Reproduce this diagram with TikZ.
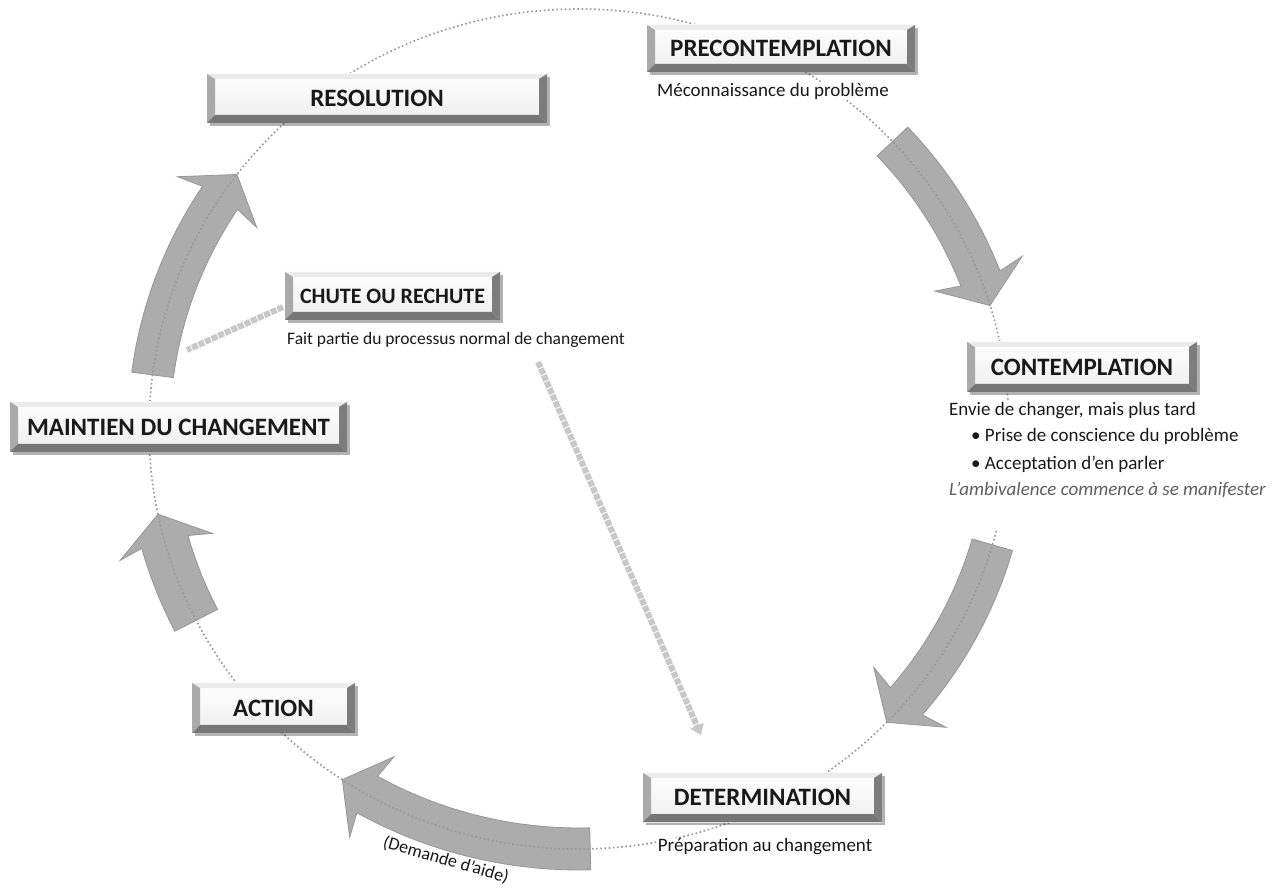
\documentclass[tikz,border=0pt]{standalone}
\usepackage{fontspec}
\setmainfont{Carlito}
\usetikzlibrary{calc,shadows,arrows.meta}
\definecolor{arrowfill}{RGB}{172,172,172}
\definecolor{arrowedge}{RGB}{150,150,150}
\definecolor{dotcol}{RGB}{150,150,150}
\definecolor{dashcol}{RGB}{200,200,200}
\definecolor{italcol}{RGB}{95,95,95}
\definecolor{txt}{RGB}{25,25,25}
\definecolor{bevtop}{RGB}{235,235,235}
\definecolor{bevleft}{RGB}{170,170,170}
\definecolor{bevright}{RGB}{125,125,125}
\definecolor{bevbot}{RGB}{118,118,118}

\newcommand\cyclearrow[4]{%
  \pgfmathsetmacro\hbarb{#2+4.6}%
  \pgfmathsetmacro\hjoin{#2+3.9}%
  \pgfmathsetmacro\ro{430+#3}\pgfmathsetmacro\ri{430-#3}%
  \pgfmathsetmacro\so{420+#3}\pgfmathsetmacro\si{420-#3}%
  \pgfmathsetmacro\rbo{430+#4}\pgfmathsetmacro\rbi{430-#4}%
  \pgfmathsetmacro\sbo{420+#4}\pgfmathsetmacro\sbi{420-#4}%
  \filldraw[blockarrow]
    ($(C)+(#1:\ro pt and \so pt)$)
    arc[start angle=#1, end angle=\hjoin, x radius=\ro pt, y radius=\so pt]
    -- ($(C)+(\hbarb:\rbo pt and \sbo pt)$)
    -- ($(C)+(#2:430pt and 420pt)$)
    -- ($(C)+(\hbarb:\rbi pt and \sbi pt)$)
    -- ($(C)+(\hjoin:\ri pt and \si pt)$)
    arc[start angle=\hjoin, end angle=#1, x radius=\ri pt, y radius=\si pt]
    -- cycle;
}

\begin{document}
\begin{tikzpicture}[x=1pt,y=1pt,
  blockarrow/.style={fill=arrowfill, draw=arrowedge, line width=0.8pt, line join=miter},
  btn/.style={rectangle, inner sep=0pt, font=\fontsize{25}{29}\selectfont\bfseries, text=txt,
    top color=white, bottom color=gray!14,
    drop shadow={shadow xshift=3pt, shadow yshift=-3pt, fill=black, opacity=0.3},
    path picture={
      \path (path picture bounding box.north west) coordinate (bNW)
            (path picture bounding box.north east) coordinate (bNE)
            (path picture bounding box.south west) coordinate (bSW)
            (path picture bounding box.south east) coordinate (bSE);
      \fill[bevtop] (bNW) -- (bNE) -- ([xshift=-8pt,yshift=-5pt]bNE) -- ([xshift=8pt,yshift=-5pt]bNW) -- cycle;
      \fill[bevleft] (bNW) -- ([xshift=8pt,yshift=-5pt]bNW) -- ([xshift=8pt,yshift=8pt]bSW) -- (bSW) -- cycle;
      \fill[bevright] (bNE) -- ([xshift=-8pt,yshift=-5pt]bNE) -- ([xshift=-8pt,yshift=8pt]bSE) -- (bSE) -- cycle;
      \fill[bevbot] (bSW) -- ([xshift=8pt,yshift=8pt]bSW) -- ([xshift=-8pt,yshift=8pt]bSE) -- (bSE) -- cycle;
    }},
  sub/.style={font=\fontsize{19}{23}\selectfont, text=txt, inner sep=1pt},
  dashline/.style={draw=dashcol, line width=6pt, dash pattern=on 6pt off 1.2pt},
  dotline/.style={draw=dotcol, line width=1.6pt, dash pattern=on 1.6pt off 2.6pt}
]
\useasboundingbox (0,0) rectangle (1286,887);
\fill[white] (0,0) rectangle (1286,887);
\coordinate (C) at (579,458);

% block arrows along the cycle
\cyclearrow{43.2}{17.1}{21}{47}
\cyclearrow{-16}{-44.3}{21}{47}
\cyclearrow{-88.5}{-123.4}{21}{46}
\cyclearrow{207.1}{191.7}{24}{48}
\cyclearrow{172.6}{142.7}{21}{47}

% dotted cycle
\draw[dotline] (C) ellipse[x radius=430pt, y radius=420pt];

% relapse lines
\coordinate (s1) at (187,537);
\coordinate (s2) at (283,580);
\coordinate (l1) at (538,525);
\coordinate (l2) at (701,152);
\draw[dashline] (s2) -- (s1);
\draw[dashline, -{Triangle[length=10pt,width=14pt]}] (l1) -- (l2);

% texts
\node[sub, fill=white] (preT) at (773,796) {Méconnaissance du problème};
\node[sub, fill=white, align=left, anchor=north west, inner sep=2pt,
      font=\fontsize{19}{26}\selectfont] (contT) at (947,487)
  {Envie de changer, mais plus tard\\
   \hspace*{22pt}• Prise de conscience du problème\\[2pt]
   \hspace*{22pt}• Acceptation d’en parler\\
   \textcolor{italcol}{\itshape L’ambivalence commence à se manifester}\\[6pt]};
\node[sub, fill=white] (detT) at (765,40) {Préparation au changement};
\node[sub, anchor=west, font=\fontsize{17.5}{21}\selectfont] (chuteT) at (286,547) {Fait partie du processus normal de changement};
\node[sub, rotate=-16, font=\fontsize{18}{22}\selectfont] (aide) at (446,27) {(Demande d’aide)};

% stage boxes
\node[btn, minimum width=268pt, minimum height=47pt] (pre) at (781,838.5) {PRECONTEMPLATION};
\node[btn, minimum width=340pt, minimum height=49pt] (res) at (377,788.5) {RESOLUTION};
\node[btn, minimum width=230pt, minimum height=50pt] (cont) at (1082,520) {CONTEMPLATION};
\node[btn, minimum width=239pt, minimum height=49pt] (det) at (762.5,89.5) {DETERMINATION};
\node[btn, minimum width=163pt, minimum height=50pt] (act) at (273.5,179) {ACTION};
\node[btn, minimum width=337pt, minimum height=50pt] (main) at (178.5,460) {MAINTIEN DU CHANGEMENT};
\node[btn, minimum width=215pt, minimum height=48pt, font=\fontsize{22}{26}\selectfont\bfseries] (chute) at (392.5,591) {CHUTE OU RECHUTE};
\end{tikzpicture}
\end{document}
